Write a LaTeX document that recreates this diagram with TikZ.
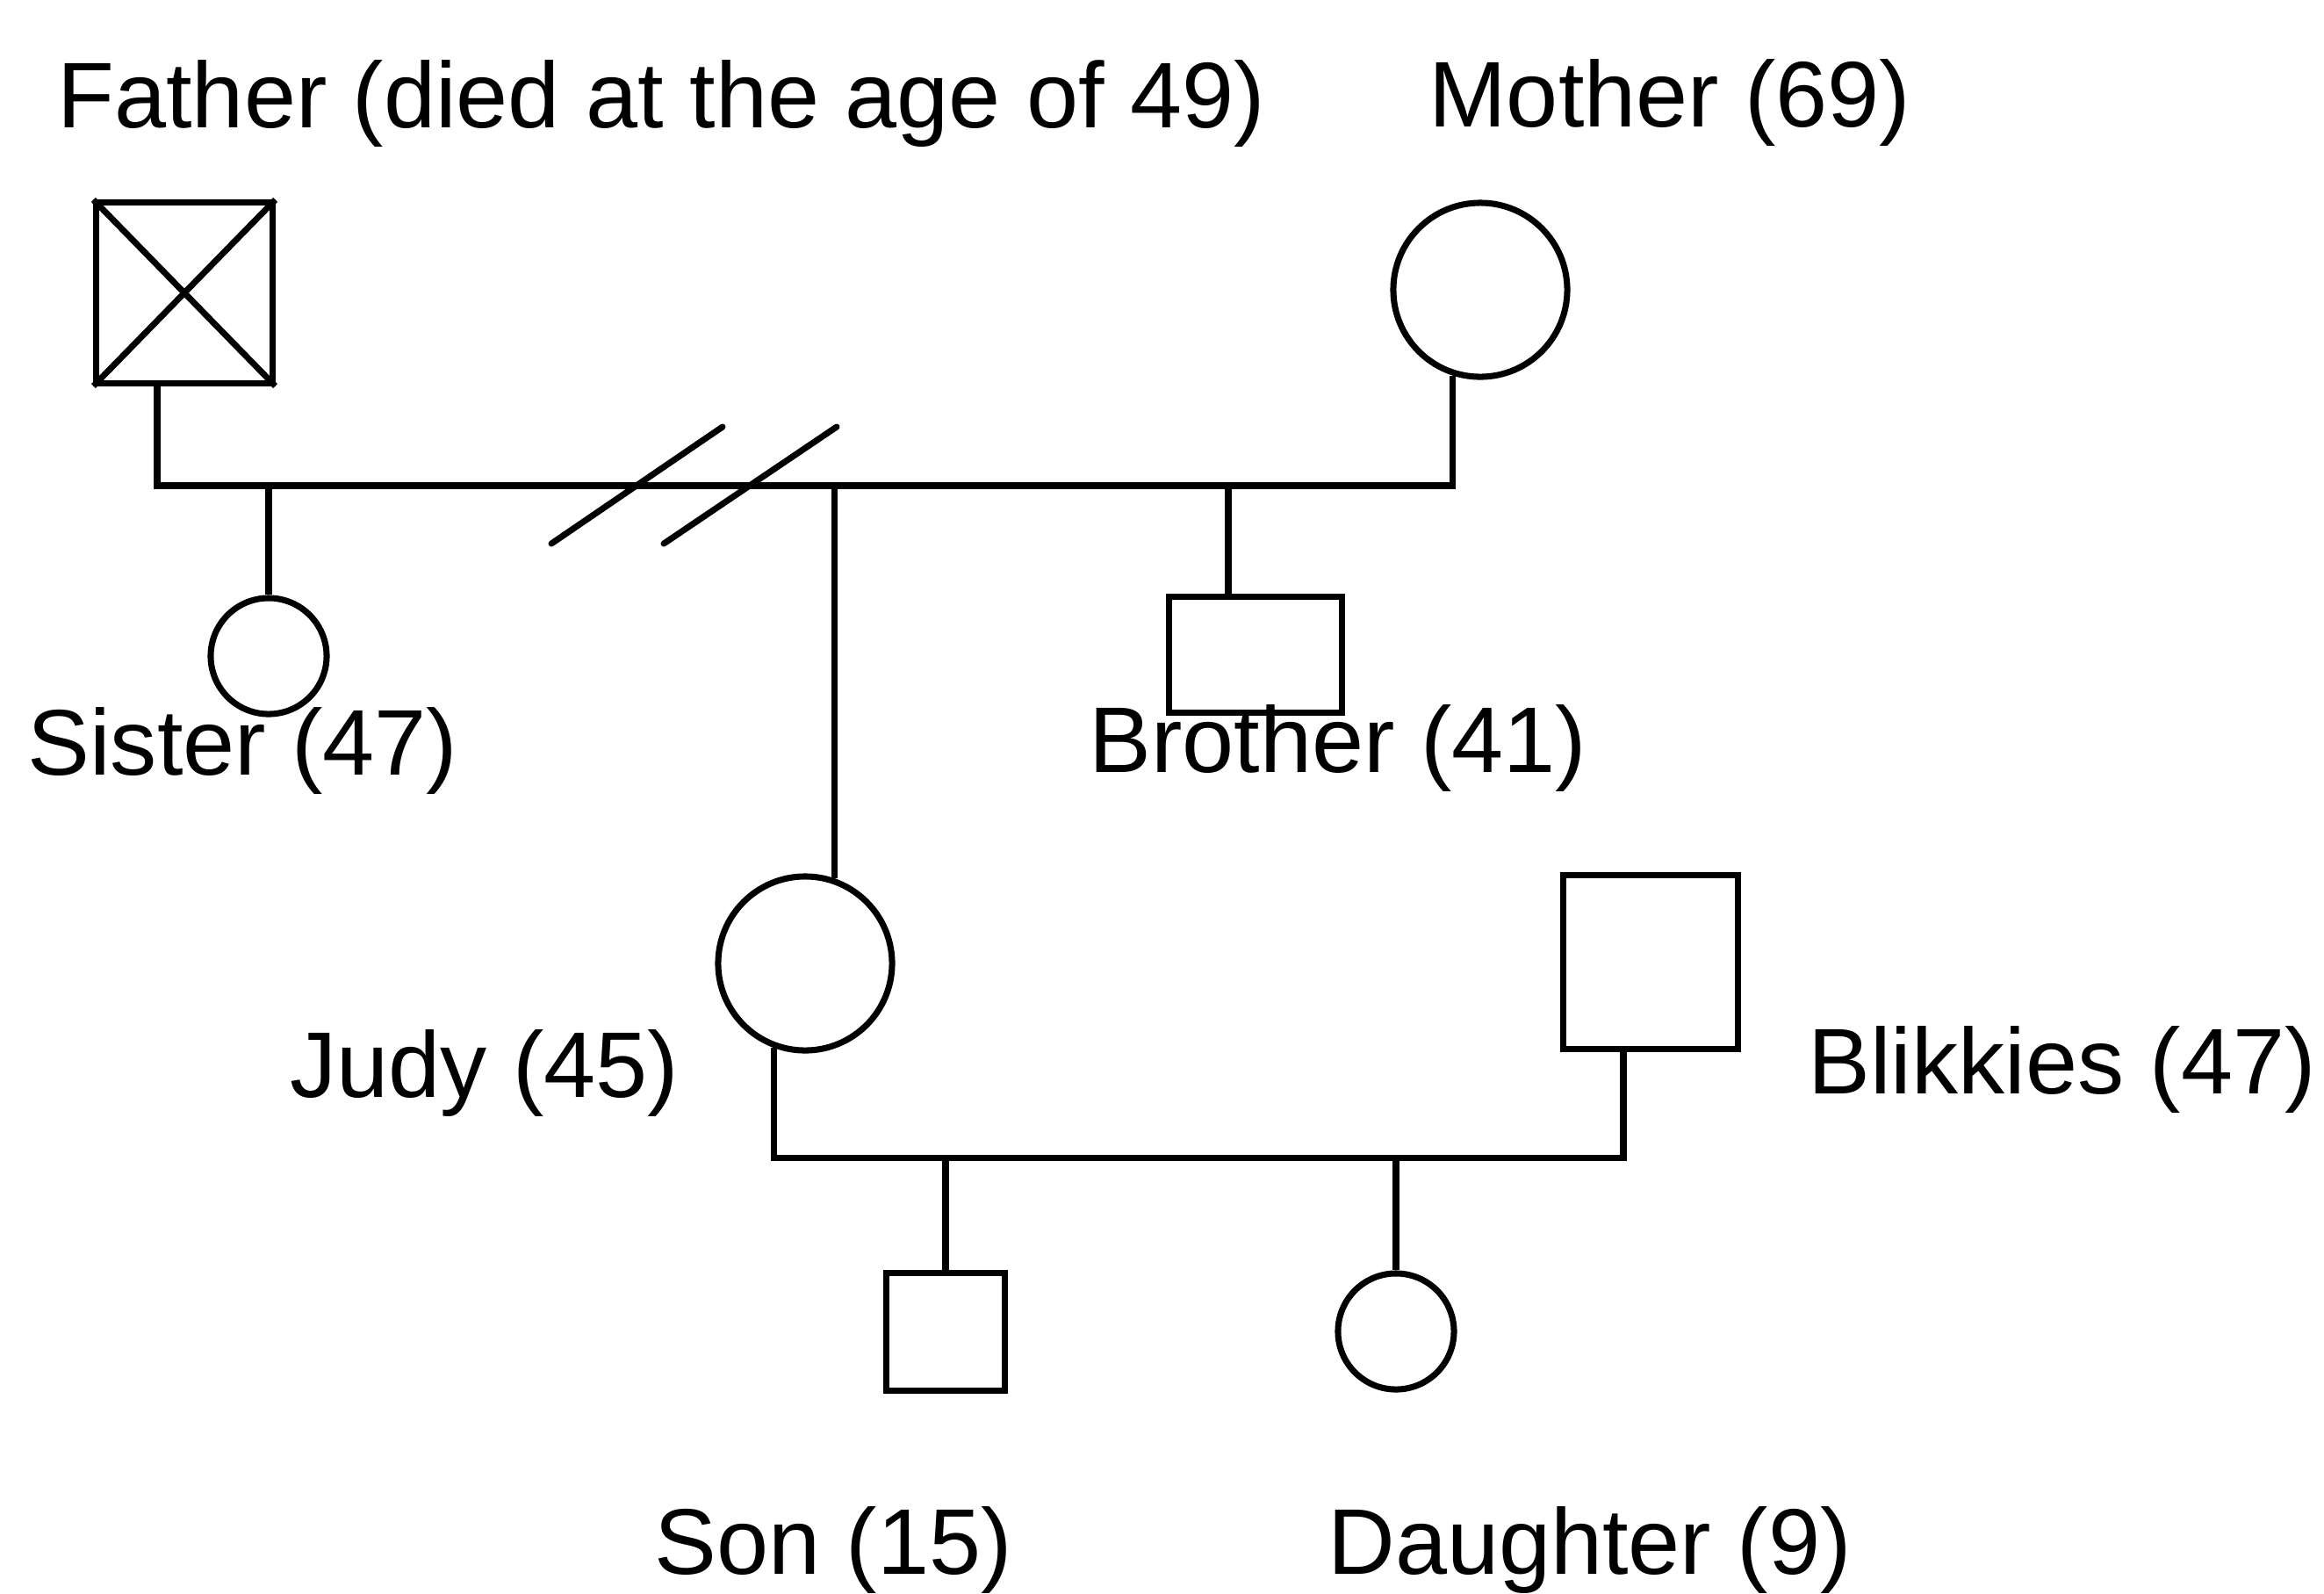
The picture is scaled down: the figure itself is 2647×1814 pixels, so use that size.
\documentclass[tikz,border=0pt]{standalone}
\usepackage{fontspec}
\setmainfont{Liberation Sans}
\begin{document}
\begin{tikzpicture}[x=0.01cm,y=-0.01cm,
  line width=2pt,
  male/.style={draw,rectangle,inner sep=0pt},
  female/.style={draw,circle,inner sep=0pt},
  label/.style={anchor=base west,inner sep=0pt,
    font=\fontsize{30.2pt}{36pt}\selectfont},
  link/.style={draw,line cap=butt,line join=miter}]
\useasboundingbox (0,0) rectangle (2647,1814);

% --- people ---
\node[male,minimum width=2.0cm,minimum height=2.05cm] (father) at (210,333.5) {};
\draw (father.north west) -- (father.south east)
      (father.north east) -- (father.south west);
\node[female,minimum size=1.98cm] (mother) at (1686,330) {};
\node[female,minimum size=1.32cm] (sister) at (306,747) {};
\node[male,minimum width=1.96cm,minimum height=1.31cm] (brother) at (1430,745.5) {};
\node[female,minimum size=1.98cm] (judy) at (917,1097) {};
\node[male,minimum width=1.98cm,minimum height=1.97cm] (blikkies) at (1880,1095.5) {};
\node[male,minimum width=1.34cm,minimum height=1.33cm] (son) at (1077,1516.5) {};
\node[female,minimum size=1.32cm] (daughter) at (1590,1516) {};

% --- labels ---
\node[label] (tfather) at (62,145) {Father (died at the age of 49)};
\node[label] (tmother) at (1624,144) {Mother (69)};
\node[label] (tsister) at (28,882) {Sister (47)};
\node[label] (tbrother) at (1237,879) {Brother (41)};
\node[label] (tjudy) at (327,1249) {Judy (45)};
\node[label] (tblikkies) at (2056,1245) {Blikkies (47)};
\node[label] (tson) at (742,1792) {Son (15)};
\node[label] (tdaughter) at (1509,1792) {Daughter (9)};

% --- parents' marriage line ---
\coordinate (bar1) at (0,553);
\coordinate (m1L) at (179,553);
\coordinate (m1R) at (mother.-108 |- bar1);
\draw[link] (father.south -| m1L) -- (m1L) -- (m1R) -- (mother.-108);

% divorce marks
\draw[line cap=round] (628,619) -- (823,486);
\draw[line cap=round] (756,619) -- (953,486);

% children of the first couple
\draw[link] (sister.north |- bar1) -- (sister.north);
\coordinate (jdrop) at (judy.71 |- bar1);
\draw[link] (jdrop) -- (judy.71);
\coordinate (bdrop) at (1399,553);
\draw[link] (bdrop) -- (bdrop |- brother.north);

% --- Judy and Blikkies ---
\coordinate (bar2) at (0,1318);
\coordinate (m2L) at (judy.-110 |- bar2);
\coordinate (m2R) at (1849,1318);
\draw[link] (judy.-110) -- (m2L) -- (m2R) -- (m2R |- blikkies.south);

% their children
\draw[link] (son.north |- bar2) -- (son.north);
\draw[link] (daughter.north |- bar2) -- (daughter.north);
\end{tikzpicture}
\end{document}
